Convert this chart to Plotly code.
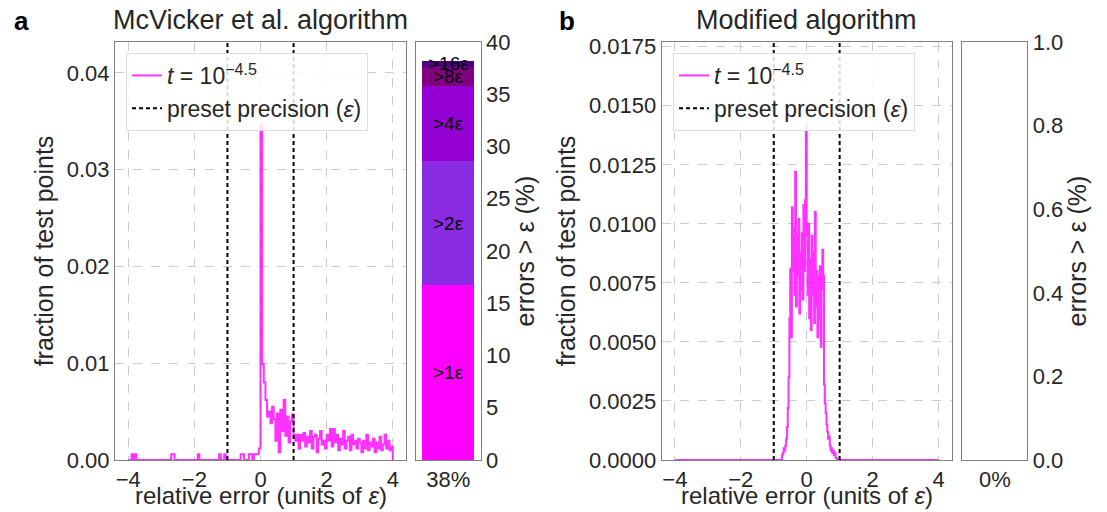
import numpy as np
import plotly.graph_objects as go

# ---------------- data ----------------
# Panel a: McVicker et al. histogram (bin width 0.05, from -4 to 4)
mc_start = -4.0
mc_width = 0.05
mc_vals = [
    # -4.0 .. -3.5
    0, 0, 0.0006, 0, 0.0006, 0, 0, 0, 0, 0,
    # -3.5 .. -3.0
    0, 0, 0, 0, 0, 0, 0, 0, 0, 0,
    # -3.0 .. -2.5
    0, 0, 0, 0, 0, 0, 0.0006, 0.0006, 0, 0,
    # -2.5 .. -2.0
    0, 0, 0, 0, 0, 0, 0, 0, 0, 0,
    # -2.0 .. -1.5
    0, 0, 0.0006, 0, 0, 0, 0, 0, 0, 0,
    # -1.5 .. -1.0
    0, 0, 0, 0, 0, 0.0006, 0, 0, 0.0006, 0,
    # -1.0 .. -0.5
    0, 0, 0, 0, 0, 0, 0, 0, 0.0006, 0.0006,
    # -0.5 .. 0.0
    0, 0, 0, 0.0006, 0.0006, 0, 0.0006, 0.0006, 0.0006, 0.0012,
    # 0.0 .. 0.5
    0.0346, 0.0099, 0.0080, 0.0062, 0.0045, 0.0050, 0.0038, 0.0055, 0.0042, 0.0020,
    # 0.5 .. 1.0
    0.0048, 0.0008, 0.0052, 0.0030, 0.0062, 0.0025, 0.0045, 0.0018, 0.0040, 0.0047,
    # 1.0 .. 1.5
    0.0026, 0.0020, 0.0026, 0.0012, 0.0026, 0.0020, 0.0028, 0.0014, 0.0024, 0.0018,
    # 1.5 .. 2.0
    0.0030, 0.0012, 0.0024, 0.0026, 0.0008, 0.0022, 0.0030, 0.0016, 0.0020, 0.0012,
    # 2.0 .. 2.5
    0.0026, 0.0020, 0.0032, 0.0014, 0.0032, 0.0018, 0.0026, 0.0010, 0.0022, 0.0016,
    # 2.5 .. 3.0
    0.0030, 0.0012, 0.0020, 0.0024, 0.0010, 0.0026, 0.0016, 0.0020, 0.0012, 0.0022,
    # 3.0 .. 3.5
    0.0018, 0.0008, 0.0020, 0.0012, 0.0026, 0.0010, 0.0018, 0.0014, 0.0022, 0.0008,
    # 3.5 .. 4.0
    0.0018, 0.0012, 0.0024, 0.0010, 0.0016, 0.0026, 0.0012, 0.0020, 0.0010, 0.0014,
]

# Panel b: Modified algorithm histogram (bin width 0.025, from -0.75), zero elsewhere in [-4, 4]
mod_start = -0.75
mod_width = 0.025
mod_vals_milli = [
    0.2, 0.3, 0.5, 0.4, 0.6, 0.9, 1.4, 2.2, 3.5, 6.0,
    8.1, 5.2, 10.7, 8.0, 9.8, 7.0, 12.2, 6.5, 9.5, 7.8,
    10.2, 6.2, 8.8, 7.2, 9.6, 6.8, 10.8, 8.0, 11.0, 14.2,
    9.5, 7.0, 10.0, 6.0, 8.5, 5.5, 9.5, 7.0, 8.8, 5.8,
    10.5, 6.5, 8.0, 5.2, 7.8, 6.0, 8.2, 4.8, 7.2, 8.9,
    7.8, 3.2, 2.4, 2.0, 1.5, 1.2, 0.9, 1.0, 0.6, 0.4,
    0.5, 0.3, 0.4, 0.2, 0.3, 0.1, 0.1, 0.0,
]
hist_extent = [-4.0, 4.0]

precision_eps = [-1.0, 1.0]

# Error breakdown (% of test points with error > k*eps)
err_labels = [">1ε", ">2ε", ">4ε", ">8ε", ">16ε"]
err_mc = [16.7, 11.9, 7.2, 1.8, 0.6]
err_mod = [0, 0, 0, 0, 0]
err_colors = ["#ff00ff", "#8a2be2", "#9400d3", "#800080", "#4b0082"]
mc_total_label = "38%"
mod_total_label = "0%"

legend_t = "<i>t</i> = 10<sup>−4.5</sup>"
legend_eps = "preset precision (<i>ε</i>)"
xtitle = "relative error (units of <i>ε</i>)"

# ---------------- layout constants ----------------
W, H = 1107, 512
FONT = "Arial, Liberation Sans, sans-serif"
TXT = "#262626"
GRID = "#cccccc"
FRAME = "#808080"
HIST_COLOR = "rgba(255,0,255,0.8)"

mc_yrange = [0, 0.0432]
mod_yrange = [0, 0.0177]
xr = [-4.4, 4.4]

def px(x):
    return x / W

def py(y):
    return 1 - y / H

ydom = [py(460), py(42)]


def step_xy(start, width, vals, extent=None):
    n = len(vals)
    edges = [start + width * i for i in range(n + 1)]
    xs = [edges[0]] + edges[:n] + [edges[n], edges[n]]
    ys = [0] + list(vals) + [vals[-1], 0]
    if extent is not None:
        xs = [extent[0]] + xs + [extent[1]]
        ys = [0] + ys + [0]
    return xs, ys


fig = go.Figure()

# ---- Panel a histogram ----
xs, ys = step_xy(mc_start, mc_width, mc_vals)
fig.add_trace(go.Scatter(x=xs, y=ys, mode="lines", line=dict(color=HIST_COLOR, width=2, shape="hv"),
                         name=legend_t, xaxis="x", yaxis="y", legend="legend", showlegend=True))
ex, ey = [], []
for e in precision_eps:
    ex += [e, e, None]
    ey += [mc_yrange[0], mc_yrange[1], None]
fig.add_trace(go.Scatter(x=ex, y=ey, mode="lines", line=dict(color="black", width=2, dash="4px,3px"),
                         name=legend_eps, xaxis="x", yaxis="y", legend="legend"))

# ---- Panel b histogram ----
xs, ys = step_xy(mod_start, mod_width, [v / 1000 for v in mod_vals_milli], extent=hist_extent)
fig.add_trace(go.Scatter(x=xs, y=ys, mode="lines", line=dict(color=HIST_COLOR, width=2, shape="hv"),
                         name=legend_t, xaxis="x3", yaxis="y3", legend="legend2"))
ex, ey = [], []
for e in precision_eps:
    ex += [e, e, None]
    ey += [mod_yrange[0], mod_yrange[1], None]
fig.add_trace(go.Scatter(x=ex, y=ey, mode="lines", line=dict(color="black", width=2, dash="4px,3px"),
                         name=legend_eps, xaxis="x3", yaxis="y3", legend="legend2"))

# ---- stacked bars ----
for lab, v, c in zip(err_labels, err_mc, err_colors):
    fig.add_trace(go.Bar(x=[mc_total_label], y=[v], marker=dict(color=c, line=dict(width=0)),
                         width=0.8, xaxis="x2", yaxis="y2", showlegend=False, name=lab))
for lab, v, c in zip(err_labels, err_mod, err_colors):
    fig.add_trace(go.Bar(x=[mod_total_label], y=[v], marker=dict(color=c, line=dict(width=0)),
                         width=0.8, xaxis="x4", yaxis="y4", showlegend=False, name=lab))

# labels on stacked segments
annotations = []
cum = 0
for lab, v in zip(err_labels, err_mc):
    mid = cum + v / 2
    cum += v
    annotations.append(dict(x=mc_total_label, y=mid, xref="x2", yref="y2", text=lab, showarrow=False,
                            font=dict(size=19, color="black", family=FONT)))

title_font = dict(size=25, color=TXT, family=FONT)
xtitle_font = dict(size=24, color=TXT, family=FONT)

# titles, x-axis titles and panel letters
annotations += [
    dict(x=px(260.5), y=py(20), xref="paper", yref="paper", text="McVicker et al. algorithm", showarrow=False,
         font=dict(size=27, color=TXT, family=FONT), xanchor="center", yanchor="middle"),
    dict(x=px(806.7), y=py(20), xref="paper", yref="paper", text="Modified algorithm", showarrow=False,
         font=dict(size=27, color=TXT, family=FONT), xanchor="center", yanchor="middle"),
    dict(x=px(21), y=py(21), xref="paper", yref="paper", text="<b>a</b>", showarrow=False,
         font=dict(size=26, color="black", family=FONT), xanchor="center", yanchor="middle"),
    dict(x=px(567), y=py(21), xref="paper", yref="paper", text="<b>b</b>", showarrow=False,
         font=dict(size=26, color="black", family=FONT), xanchor="center", yanchor="middle"),
    dict(x=px(260.5), y=py(511), xref="paper", yref="paper", text=xtitle, showarrow=False,
         font=xtitle_font, xanchor="center", yanchor="bottom"),
    dict(x=px(806.7), y=py(511), xref="paper", yref="paper", text=xtitle, showarrow=False,
         font=xtitle_font, xanchor="center", yanchor="bottom"),
]

axis_common = dict(showline=True, linecolor=FRAME, linewidth=1, mirror=True, ticks="", automargin=False,
                   tickfont=dict(size=22, color=TXT, family=FONT), zeroline=False)
grid_common = dict(showgrid=True, gridcolor=GRID, griddash="dash", gridwidth=1)

fig.update_layout(
    width=W, height=H, margin=dict(l=0, r=0, t=0, b=0),
    paper_bgcolor="white", plot_bgcolor="white",
    barmode="stack", bargap=0.2,
    font=dict(family=FONT, color=TXT),
    annotations=annotations,
    xaxis=dict(domain=[px(115), px(406)], range=xr, tickmode="array", tickvals=[-4, -2, 0, 2, 4],
               anchor="y", **axis_common, **grid_common),
    yaxis=dict(domain=ydom, range=mc_yrange, tickvals=[0, 0.01, 0.02, 0.03, 0.04], tickformat=".2f",
               title=dict(text="fraction of test points", font=title_font, standoff=6),
               anchor="x", **axis_common, **grid_common),
    xaxis2=dict(domain=[px(415.7), px(480.7)], anchor="y2", type="category", showgrid=False, **axis_common),
    yaxis2=dict(domain=ydom, range=[0, 40], anchor="x2", side="right", dtick=5, showgrid=False,
                title=dict(text="errors > ε (%)", font=title_font, standoff=4), **axis_common),
    xaxis3=dict(domain=[px(661.7), px(951.7)], range=xr, tickmode="array", tickvals=[-4, -2, 0, 2, 4],
                anchor="y3", **axis_common, **grid_common),
    yaxis3=dict(domain=ydom, range=mod_yrange, dtick=0.0025, tickformat=".4f",
                title=dict(text="fraction of test points", font=title_font, standoff=6),
                anchor="x3", **axis_common, **grid_common),
    xaxis4=dict(domain=[px(962.3), px(1027.3)], anchor="y4", type="category", showgrid=False, **axis_common),
    yaxis4=dict(domain=ydom, range=[0, 1], anchor="x4", side="right", dtick=0.2, tickformat=".1f",
                showgrid=False, title=dict(text="errors > ε (%)", font=title_font, standoff=4), **axis_common),
    legend=dict(x=px(126), y=py(53), xanchor="left", yanchor="top", bgcolor="rgba(255,255,255,0.85)",
                traceorder="normal", bordercolor="#dddddd", borderwidth=1,
                font=dict(size=23, color=TXT, family=FONT)),
    legend2=dict(x=px(673), y=py(53), xanchor="left", yanchor="top", bgcolor="rgba(255,255,255,0.85)",
                 traceorder="normal", bordercolor="#dddddd", borderwidth=1,
                 font=dict(size=23, color=TXT, family=FONT)),
)

fig.write_html("out.html")
